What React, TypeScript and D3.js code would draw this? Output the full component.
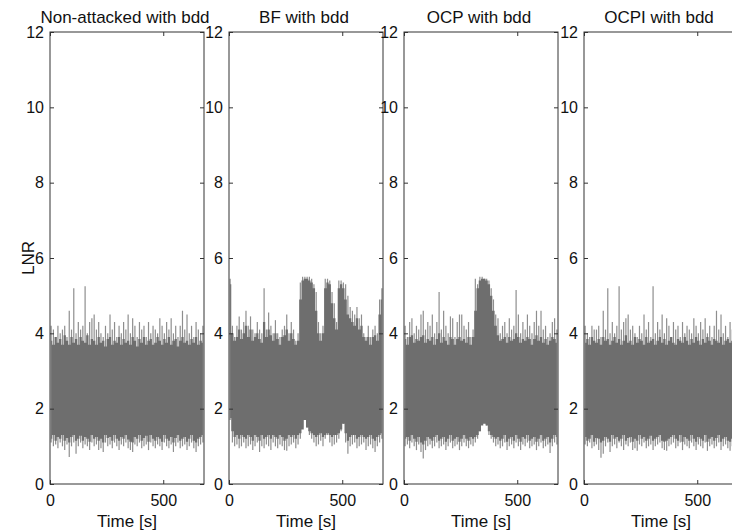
import React, { useEffect, useRef } from 'react';
import * as d3 from 'd3';

// LNR traces, one sample every 10 s:
// hi/lo = spike extremes, coreHi/coreLo = edges of the dense dark band
const panelTitles = ['Non-attacked with bdd', 'BF with bdd', 'OCP with bdd', 'OCPI with bdd'];
const yTicks = [0, 2, 4, 6, 8, 10, 12];
const xTicks = [0, 500];
const sampleStep = 10;

const hiNonAttacked = [4.2,4.1,3.9,4.2,4.0,4.1,4.2,3.9,4.6,4.1,
  5.2,4.0,4.3,4.1,4.2,5.25,4.0,4.3,4.4,4.5,
  4.1,4.3,4.0,3.9,4.2,4.0,4.5,4.1,4.3,3.9,
  4.2,4.0,4.3,4.1,4.5,4.0,4.4,4.2,3.9,4.3,
  4.1,4.2,3.9,4.3,4.0,4.2,4.1,4.0,4.4,4.2,
  4.0,4.3,4.1,4.4,4.0,4.2,3.9,4.2,4.6,4.1,
  4.5,4.0,4.2,3.9,4.3,4.1,4.0,4.2];
const loNonAttacked = [1.1,1.0,1.05,0.95,1.1,1.0,0.9,1.05,0.72,1.0,
  1.1,0.8,1.0,1.1,0.95,1.05,1.0,0.9,1.1,1.0,
  1.05,0.9,0.95,0.85,1.1,1.0,1.05,0.95,1.1,1.0,
  0.9,1.05,1.0,1.1,0.95,0.9,0.85,1.05,1.0,1.1,
  0.95,1.0,1.05,0.9,1.1,1.0,0.95,1.05,1.0,0.9,
  1.1,1.0,0.95,1.05,0.85,1.0,1.1,0.95,1.0,1.05,
  0.9,1.0,1.1,0.95,0.85,1.0,1.05,1.1];
const coreHiNonAttacked = [3.8,3.7,3.9,3.75,3.85,3.7,3.95,3.8,3.7,3.9,
  3.75,3.85,3.7,3.9,3.8,3.75,3.95,3.7,3.85,3.8,
  3.7,3.9,3.75,3.8,3.65,3.85,3.9,3.7,3.8,3.75,
  3.9,3.7,3.85,3.75,3.8,3.7,3.9,3.8,3.65,3.85,
  3.75,3.9,3.7,3.8,3.85,3.7,3.75,3.9,3.8,3.7,
  3.85,3.75,3.9,3.7,3.8,3.85,3.65,3.8,3.9,3.75,
  3.8,3.7,3.85,3.75,3.9,3.7,3.8,3.75];
const coreLoNonAttacked = [1.2,1.3,1.15,1.25,1.2,1.3,1.15,1.22,1.1,1.25,
  1.3,1.15,1.2,1.28,1.15,1.25,1.2,1.12,1.3,1.2,
  1.25,1.15,1.2,1.1,1.3,1.22,1.25,1.15,1.3,1.2,
  1.15,1.25,1.2,1.3,1.18,1.12,1.1,1.25,1.2,1.3,
  1.15,1.22,1.28,1.12,1.3,1.2,1.15,1.25,1.2,1.12,
  1.3,1.2,1.15,1.25,1.1,1.22,1.3,1.15,1.2,1.25,
  1.12,1.2,1.3,1.15,1.1,1.2,1.25,1.3];

const hiBF = [5.45,4.2,3.9,4.2,4.45,4.1,4.3,4.6,4.2,4.45,
  4.1,4.0,4.3,4.1,4.0,5.2,4.1,4.55,4.2,4.0,
  4.35,4.0,3.9,4.1,4.2,4.5,4.0,4.3,4.1,3.8,
  4.0,5.35,5.5,5.5,5.5,5.5,5.45,5.3,5.1,4.3,
  4.0,4.2,5.45,5.45,5.4,5.1,4.8,4.3,5.4,5.4,
  5.35,5.3,5.0,4.7,4.6,4.5,4.7,4.4,4.5,4.0,
  3.9,4.2,3.9,4.1,4.2,4.0,4.9,5.2];
const loBF = [1.7,1.1,1.0,1.05,0.95,1.0,1.1,0.95,1.0,1.05,
  0.9,1.0,1.1,0.85,1.0,0.95,1.05,1.0,0.9,1.1,
  1.0,0.95,1.05,1.0,0.9,0.88,1.0,1.05,1.1,0.95,
  1.05,1.2,1.5,1.85,1.5,1.3,1.2,1.1,1.0,1.05,
  1.15,1.0,1.2,1.3,1.1,1.0,1.05,1.1,1.2,1.4,
  1.6,1.1,0.8,1.0,1.05,1.1,0.95,1.0,1.05,1.1,
  0.9,1.0,1.05,0.95,0.85,1.0,1.1,1.2];
const coreHiBF = [5.3,4.0,3.8,3.9,4.1,3.85,4.0,4.2,3.9,4.1,
  3.8,3.9,4.0,3.85,3.75,4.3,3.9,4.1,3.95,3.8,
  4.0,3.85,3.7,3.9,3.95,4.1,3.8,4.0,3.85,3.7,
  3.8,4.9,5.4,5.45,5.45,5.4,5.35,5.2,4.6,4.0,
  3.8,4.0,5.2,5.35,5.3,4.8,4.4,4.1,5.2,5.3,
  5.2,4.9,4.5,4.4,4.3,4.2,4.4,4.1,4.2,3.9,
  3.8,3.9,3.7,3.9,3.95,3.8,4.5,4.9];
const coreLoBF = [1.75,1.4,1.25,1.3,1.2,1.3,1.25,1.2,1.3,1.25,
  1.15,1.3,1.25,1.15,1.3,1.2,1.25,1.3,1.2,1.3,
  1.25,1.2,1.3,1.25,1.15,1.2,1.3,1.25,1.3,1.2,
  1.3,1.35,1.45,1.7,1.5,1.4,1.35,1.3,1.25,1.3,
  1.35,1.25,1.3,1.35,1.3,1.25,1.3,1.3,1.35,1.45,
  1.6,1.35,1.15,1.25,1.3,1.3,1.2,1.25,1.3,1.25,
  1.2,1.25,1.3,1.2,1.15,1.25,1.3,1.35];

const hiOCP = [4.2,3.9,4.3,4.4,4.0,4.2,4.1,4.5,4.6,4.1,
  4.3,4.2,4.5,4.0,4.3,5.1,4.1,4.6,4.2,4.0,
  4.45,4.4,3.9,4.3,4.5,4.5,4.2,4.1,4.3,3.9,
  4.1,5.45,5.3,5.5,5.5,5.45,5.45,5.4,5.2,4.9,
  4.5,4.4,4.0,4.2,4.3,4.0,4.4,4.1,4.2,5.15,
  4.5,4.0,4.3,4.1,4.5,4.2,4.0,4.3,4.6,4.2,
  4.6,4.1,4.2,3.9,4.0,4.3,4.4,4.1];
const loOCP = [1.0,1.05,0.95,1.1,1.0,0.9,1.05,0.85,0.68,0.9,
  1.0,1.05,0.95,1.0,1.1,0.95,1.0,1.05,0.9,1.0,
  1.1,0.95,1.0,1.05,0.9,1.0,1.1,1.0,0.95,1.05,
  1.0,1.1,1.2,1.4,1.6,1.75,1.55,1.3,1.2,1.1,
  1.0,1.05,0.95,1.0,1.1,0.9,1.0,1.05,0.95,1.1,
  1.0,0.9,1.05,1.0,1.1,0.95,1.0,1.05,0.9,1.0,
  1.1,0.95,1.0,1.05,0.82,1.0,1.1,1.05];
const coreHiOCP = [3.85,3.7,3.9,3.95,3.75,3.85,3.8,3.9,3.95,3.75,
  3.85,3.8,3.9,3.7,3.85,4.0,3.75,3.9,3.8,3.7,
  3.9,3.85,3.7,3.85,3.9,3.8,3.85,3.75,3.9,3.7,
  3.9,4.6,5.2,5.4,5.45,5.45,5.4,5.3,5.0,4.6,
  4.2,3.95,3.8,3.85,3.9,3.75,3.9,3.8,3.85,4.0,
  3.9,3.75,3.85,3.8,3.9,3.85,3.7,3.85,3.95,3.8,
  3.9,3.75,3.85,3.7,3.8,3.9,3.85,3.75];
const coreLoOCP = [1.2,1.25,1.15,1.3,1.2,1.12,1.25,1.1,1.05,1.15,
  1.25,1.2,1.15,1.25,1.3,1.15,1.2,1.25,1.12,1.2,
  1.3,1.15,1.2,1.25,1.12,1.2,1.3,1.2,1.15,1.25,
  1.2,1.25,1.3,1.4,1.55,1.6,1.55,1.4,1.3,1.25,
  1.2,1.25,1.15,1.2,1.3,1.12,1.2,1.25,1.15,1.3,
  1.2,1.12,1.25,1.2,1.3,1.15,1.2,1.25,1.12,1.2,
  1.3,1.15,1.2,1.25,1.1,1.2,1.3,1.25];

const hiOCPI = [4.2,4.0,3.9,4.2,4.1,4.1,4.2,3.9,4.6,4.1,
  5.2,4.0,4.3,4.0,4.2,5.25,4.1,4.3,4.4,4.5,
  4.1,4.2,4.0,3.9,4.2,4.0,4.5,4.1,4.3,3.9,
  5.25,4.0,4.3,4.1,4.5,4.0,4.4,4.2,3.9,4.3,
  4.1,4.2,3.9,4.3,4.0,4.2,4.1,4.0,4.4,4.2,
  4.0,4.3,4.1,4.4,4.0,4.2,3.9,4.2,4.6,4.1,
  4.5,4.0,4.2,3.9,4.3,4.1,4.0,4.2];
const loOCPI = [1.05,1.0,1.1,0.95,1.0,1.05,0.9,0.7,0.8,1.0,
  1.1,0.85,1.0,1.05,0.95,1.1,1.0,0.9,1.05,1.0,
  1.1,0.9,0.95,0.88,1.05,1.0,1.1,0.95,1.0,1.05,
  0.9,1.0,1.05,1.1,0.95,0.9,0.88,1.0,1.05,1.1,
  0.95,1.0,1.1,0.9,1.05,1.0,0.95,1.1,1.0,0.9,
  1.05,1.0,0.95,1.1,0.88,1.0,1.05,0.95,1.0,1.1,
  0.9,1.0,1.05,0.95,0.88,1.0,1.1,1.05];
const coreHiOCPI = [3.75,3.85,3.7,3.9,3.8,3.75,3.85,3.7,3.9,3.8,
  3.85,3.7,3.8,3.9,3.75,3.85,3.7,3.8,3.95,3.75,
  3.8,3.7,3.9,3.75,3.85,3.8,3.7,3.9,3.75,3.8,
  3.85,3.7,3.8,3.9,3.75,3.85,3.7,3.8,3.9,3.75,
  3.7,3.85,3.8,3.75,3.9,3.8,3.7,3.85,3.75,3.9,
  3.8,3.7,3.85,3.75,3.9,3.8,3.7,3.85,3.8,3.75,
  3.9,3.7,3.8,3.85,3.75,3.8,3.9,3.7];
const coreLoOCPI = [1.25,1.15,1.2,1.3,1.12,1.22,1.2,1.1,1.15,1.25,
  1.2,1.12,1.3,1.2,1.25,1.15,1.2,1.3,1.15,1.22,
  1.25,1.12,1.2,1.15,1.3,1.2,1.25,1.15,1.2,1.28,
  1.15,1.2,1.25,1.3,1.15,1.12,1.15,1.2,1.25,1.3,
  1.2,1.15,1.3,1.12,1.25,1.2,1.15,1.3,1.2,1.12,
  1.25,1.2,1.15,1.3,1.12,1.2,1.25,1.15,1.22,1.3,
  1.12,1.2,1.25,1.15,1.12,1.2,1.3,1.25];

const panels = [
  { title: panelTitles[0], hi: hiNonAttacked, lo: loNonAttacked, coreHi: coreHiNonAttacked, coreLo: coreLoNonAttacked },
  { title: panelTitles[1], hi: hiBF, lo: loBF, coreHi: coreHiBF, coreLo: coreLoBF },
  { title: panelTitles[2], hi: hiOCP, lo: loOCP, coreHi: coreHiOCP, coreLo: coreLoOCP },
  { title: panelTitles[3], hi: hiOCPI, lo: loOCPI, coreHi: coreHiOCPI, coreLo: coreLoOCPI },
];

const font = '"Liberation Sans", Arial, Helvetica, sans-serif';

const App = () => {
  const ref = useRef<SVGSVGElement>(null);

  useEffect(() => {
    if (!ref.current) return;
    const svg = d3.select(ref.current);
    svg.selectAll('*').remove();

    const panelLefts = [50, 229, 404, 584];
    const panelWidth = 154;
    const top = 32, bottom = 484;

    const x = d3.scaleLinear().domain([0, 680]).range([0, panelWidth]);
    const y = d3.scaleLinear().domain([0, 12]).range([bottom, top]);
    const tOf = (i: number) => sampleStep / 2 + i * sampleStep;

    panels.forEach((p, pi) => {
      const g = svg.append('g').attr('transform', `translate(${panelLefts[pi]},0)`);

      g.append('clipPath').attr('id', `clip${pi}`)
        .append('rect').attr('x', 0).attr('y', top).attr('width', panelWidth).attr('height', bottom - top);

      const plot = g.append('g').attr('clip-path', `url(#clip${pi})`);

      // spikes (lighter, thin)
      plot.selectAll('.spike')
        .data(p.hi)
        .enter().append('line')
        .attr('class', 'spike')
        .attr('x1', (_, i) => x(tOf(i)))
        .attr('x2', (_, i) => x(tOf(i)))
        .attr('y1', (_, i) => y(p.lo[i]))
        .attr('y2', (d) => y(d))
        .attr('stroke', '#8e8e8e')
        .attr('stroke-width', 1.2);

      // dense core of the trace
      const area = d3.area<number>()
        .x((_, i) => x(tOf(i)))
        .y0((_, i) => y(p.coreLo[i]))
        .y1((d) => y(d))
        .curve(d3.curveStep);
      plot.append('path')
        .datum(p.coreHi)
        .attr('d', area)
        .attr('fill', '#6e6e6e');

      // axes with inward ticks
      const styleAxis = (a: any) => {
        a.select('.domain').remove();
        a.selectAll('line').attr('stroke', '#333');
        a.selectAll('text').style('font-family', font).style('font-size', '16px').attr('fill', '#111');
      };
      g.append('g').call(d3.axisLeft(y).tickValues(yTicks).tickSize(-4).tickPadding(6)).call(styleAxis);
      g.append('g').attr('transform', `translate(${panelWidth},0)`)
        .call(d3.axisRight(y).tickValues(yTicks).tickSize(-4).tickFormat(() => '')).call(styleAxis);
      g.append('g').attr('transform', `translate(0,${bottom})`)
        .call(d3.axisBottom(x).tickValues(xTicks).tickSize(-4).tickPadding(11)).call(styleAxis);
      g.append('g').attr('transform', `translate(0,${top})`)
        .call(d3.axisTop(x).tickValues(xTicks).tickSize(-4).tickFormat(() => '')).call(styleAxis);

      g.append('rect')
        .attr('x', 0).attr('y', top).attr('width', panelWidth).attr('height', bottom - top)
        .attr('fill', 'none').attr('stroke', '#333').attr('stroke-width', 1);

      g.append('text')
        .attr('x', panelWidth / 2 - 2).attr('y', 23)
        .attr('text-anchor', 'middle')
        .style('font-family', font).style('font-size', '17px').attr('fill', '#111')
        .text(p.title);

      g.append('text')
        .attr('x', panelWidth / 2).attr('y', 527)
        .attr('text-anchor', 'middle')
        .style('font-family', font).style('font-size', '17px').attr('fill', '#111')
        .text('Time [s]');
    });

    svg.append('text')
      .attr('transform', `translate(34,${y(6)}) rotate(-90)`)
      .attr('text-anchor', 'middle')
      .style('font-family', font).style('font-size', '17px').attr('fill', '#111')
      .text('LNR');
  }, []);

  return (
    <svg ref={ref} width={732} height={530}
      style={{ position: 'absolute', left: 0, top: 0, background: '#fff', overflow: 'hidden' }} />
  );
};

export default App;
